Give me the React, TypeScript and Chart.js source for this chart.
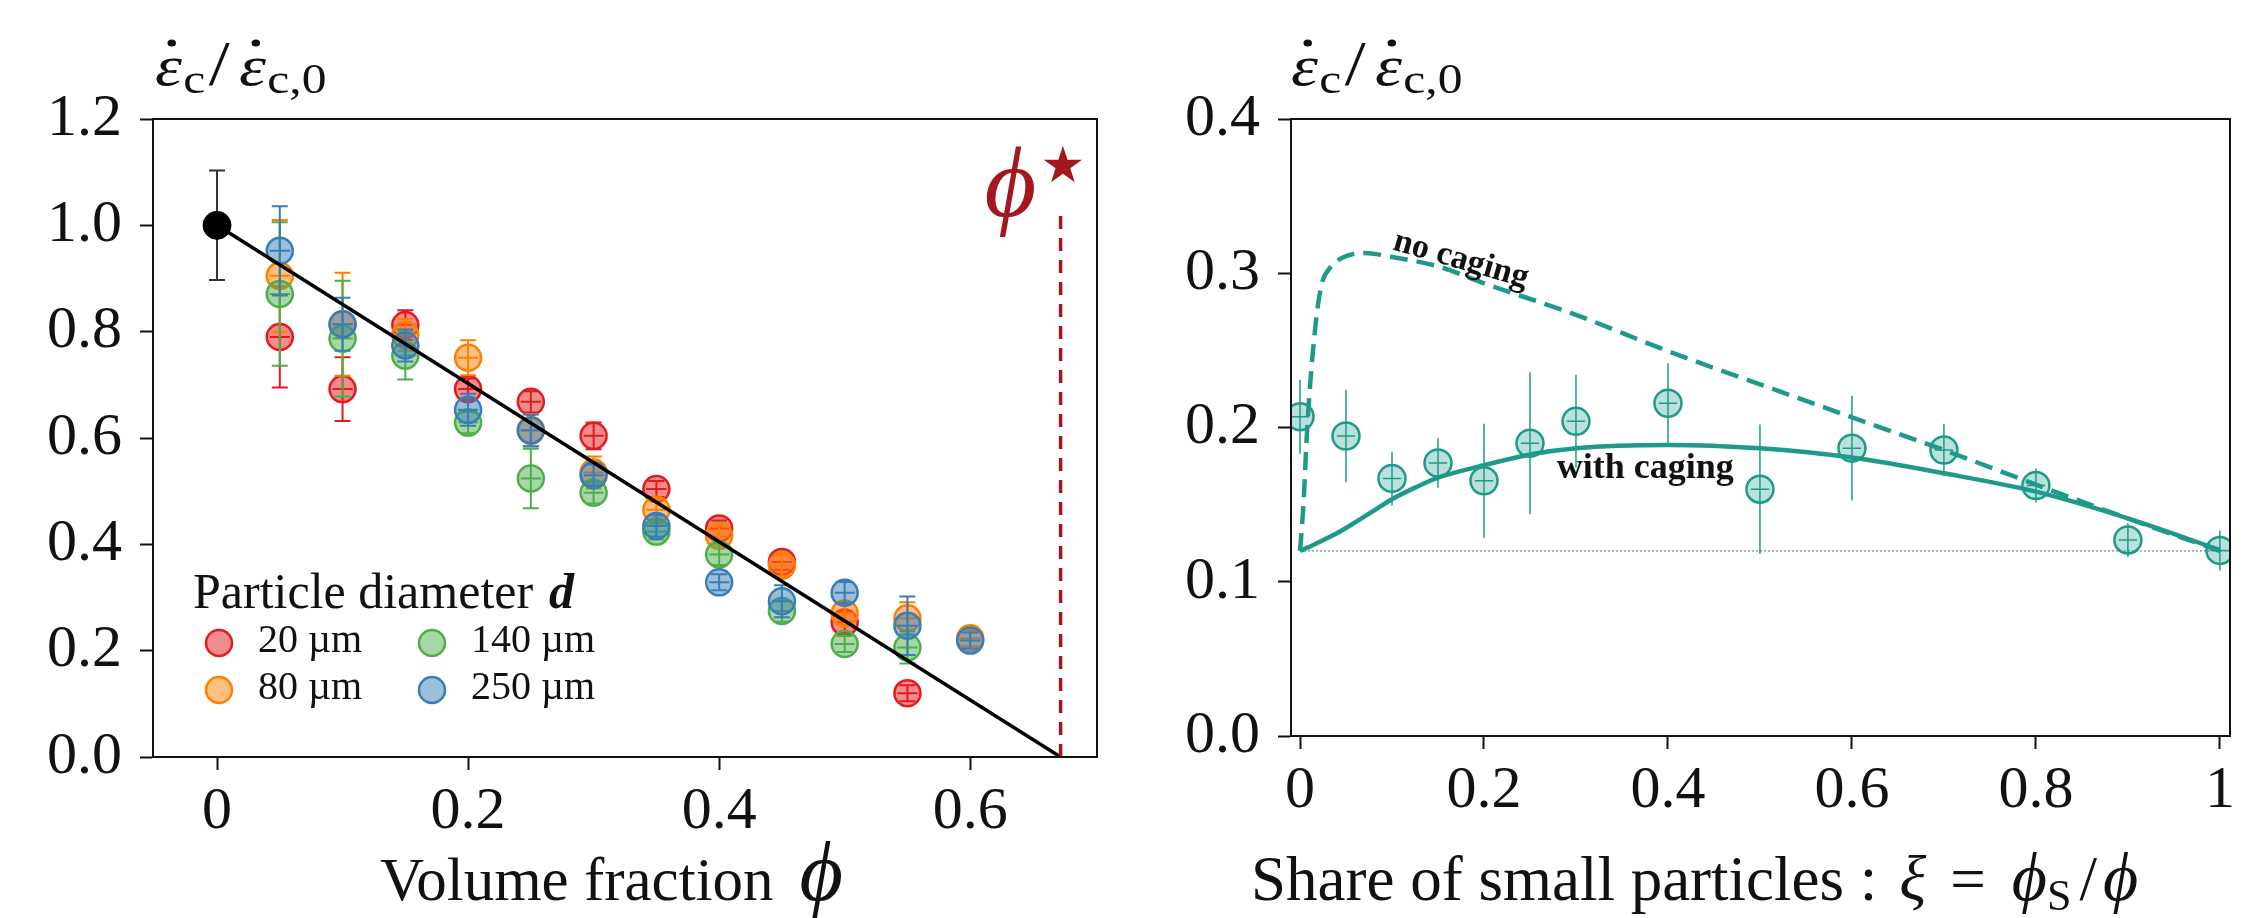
import React, { useEffect, useRef } from 'react';
import { Chart, registerables } from 'chart.js';

Chart.register(...registerables);

// ---------------- DATA (left panel) ----------------
const PHI = [0.05, 0.1, 0.15, 0.2, 0.25, 0.3, 0.35, 0.4, 0.45, 0.5, 0.55, 0.6];
const SERIES_LABELS = ['20 µm', '80 µm', '140 µm', '250 µm'];
const RED_RATE = [0.79, 0.692, 0.8125, 0.692, 0.668, 0.604, 0.504, 0.43, 0.367, 0.253, 0.12, null];
const RED_ERR = [0.095, 0.06, 0.028, 0.02, 0.02, 0.025, 0.015, 0.015, 0.015, 0.02, 0.015, null];
const ORANGE_RATE = [0.905, 0.814, 0.794, 0.751, 0.615, 0.535, 0.465, 0.416, 0.36, 0.27, 0.261, 0.2233];
const ORANGE_ERR = [0.105, 0.097, 0.03, 0.033, 0.03, 0.03, 0.02, 0.02, 0.02, 0.02, 0.03, 0.015];
const GREEN_RATE = [0.871, 0.787, 0.755, 0.629, 0.524, 0.497, 0.424, 0.381, 0.2746, 0.2125, 0.206, null];
const GREEN_ERR = [0.135, 0.109, 0.045, 0.02, 0.056, 0.02, 0.015, 0.02, 0.02, 0.015, 0.03, null];
const BLUE_RATE = [0.952, 0.814, 0.774, 0.653, 0.614, 0.53, 0.4345, 0.3285, 0.293, 0.309, 0.247, 0.219];
const BLUE_ERR = [0.084, 0.05, 0.03, 0.03, 0.03, 0.02, 0.02, 0.015, 0.03, 0.02, 0.055, 0.015];
const REF_PHI = [0];
const REF_RATE = [1.0];
const REF_ERR = [0.103];
const PHI_XERR = 0.008;
const PHI_STAR = 0.672;
const PHI_STAR_TOP = 1.02;
const FIT_X = [0, PHI_STAR];
const FIT_Y = [1, 0];
const X_TICKS_LEFT = [0, 0.2, 0.4, 0.6];
const X_LABELS_LEFT = ['0', '0.2', '0.4', '0.6'];
const Y_TICKS_LEFT = [0, 0.2, 0.4, 0.6, 0.8, 1.0, 1.2];
const Y_LABELS_LEFT = ['0.0', '0.2', '0.4', '0.6', '0.8', '1.0', '1.2'];

// ---------------- DATA (right panel) ----------------
const XI = [0, 0.05, 0.1, 0.15, 0.2, 0.25, 0.3, 0.4, 0.5, 0.6, 0.7, 0.8, 0.9, 1.0];
const RATE = [0.207, 0.1945, 0.167, 0.177, 0.1655, 0.1898, 0.204, 0.2157, 0.16, 0.1866, 0.1854, 0.1624, 0.1271, 0.1203];
const RATE_ERR = [0.024, 0.03, 0.0175, 0.016, 0.037, 0.046, 0.03, 0.026, 0.042, 0.034, 0.017, 0.011, 0.011, 0.013];
const XI_XERR = 0.01;
const NO_CAGING_X = [0, 0.002, 0.004, 0.0075, 0.0125, 0.019, 0.024, 0.032, 0.046, 0.07, 0.1, 0.15, 0.2, 0.3, 0.4, 0.5, 0.6, 0.7, 0.8, 0.9, 1.0];
const NO_CAGING_Y = [0.12, 0.135, 0.153, 0.196, 0.239, 0.277, 0.294, 0.303, 0.31, 0.3132, 0.3105, 0.3045, 0.2935, 0.273, 0.2495, 0.228, 0.2066, 0.1854, 0.163, 0.141, 0.12];
const WITH_CAGING_X = [0, 0.02, 0.04, 0.06, 0.08, 0.1, 0.125, 0.15, 0.2, 0.25, 0.3, 0.4, 0.5, 0.6, 0.7, 0.8, 0.9, 1.0];
const WITH_CAGING_Y = [0.12, 0.1255, 0.1314, 0.1385, 0.146, 0.1535, 0.161, 0.1675, 0.1755, 0.1825, 0.1866, 0.1887, 0.1865, 0.1805, 0.1703, 0.1584, 0.1411, 0.1206];
const BASELINE = 0.12;
const X_TICKS_RIGHT = [0, 0.2, 0.4, 0.6, 0.8, 1];
const X_LABELS_RIGHT = ['0', '0.2', '0.4', '0.6', '0.8', '1'];
const Y_TICKS_RIGHT = [0, 0.1, 0.2, 0.3, 0.4];
const Y_LABELS_RIGHT = ['0.0', '0.1', '0.2', '0.3', '0.4'];

// ---------------- STYLE ----------------
const SERIF = "'Liberation Serif', 'DejaVu Serif', serif";
const INK = '#111111';
const SERIES_COLORS = ['#e41a1c', '#ff7f00', '#4daf4a', '#377eb8'];
const SERIES_FILLS = ['rgba(228,26,28,0.5)', 'rgba(255,127,0,0.5)', 'rgba(77,175,74,0.5)', 'rgba(55,126,184,0.5)'];
const TEAL = '#1f9a8a';
const TEAL_FILL = 'rgba(31,154,138,0.3)';
const DARK_RED = '#a3181f';
const W = 1127;
const H = 918;
const TICK_FONT = { family: SERIF, size: 60 };

type Run = { t: string; f: string; dx?: number; dy?: number; dot?: boolean };

function drawRuns(ctx: any, x: number, y: number, runs: Run[], color: string, align: 'left' | 'center', sx = 1) {
  ctx.save();
  ctx.fillStyle = color;
  ctx.textBaseline = 'alphabetic';
  ctx.textAlign = 'left';
  let total = 0;
  const widths: number[] = [];
  runs.forEach((r) => {
    ctx.font = r.f;
    const w = ctx.measureText(r.t).width;
    widths.push(w);
    total += (r.dx || 0) + w;
  });
  ctx.translate(align === 'center' ? x - (total * sx) / 2 : x, y);
  ctx.scale(sx, 1);
  let cx = 0;
  runs.forEach((r, i) => {
    cx += r.dx || 0;
    ctx.font = r.f;
    ctx.fillText(r.t, cx, r.dy || 0);
    if (r.dot) {
      ctx.beginPath();
      ctx.arc(cx + widths[i] * 0.62, -42, 3.6, 0, Math.PI * 2);
      ctx.fill();
    }
    cx += widths[i];
  });
  ctx.restore();
}

function rateTitleRuns(): Run[] {
  return [
    { t: 'ε', f: `italic 58px ${SERIF}`, dot: true },
    { t: 'c', f: `42px ${SERIF}`, dy: 8, dx: 1 },
    { t: '/', f: `64px ${SERIF}`, dx: 3 },
    { t: 'ε', f: `italic 58px ${SERIF}`, dx: 8, dot: true },
    { t: 'c,0', f: `42px ${SERIF}`, dy: 8, dx: 1 },
  ];
}

const errorBarsPlugin = {
  id: 'errorBars',
  beforeDatasetDraw(chart: any, args: any) {
    const ds = chart.data.datasets[args.index];
    if (!ds.withErrors) return;
    const ctx = chart.ctx;
    const xs = chart.scales.x;
    const ys = chart.scales.y;
    ctx.save();
    ctx.strokeStyle = ds.errColor;
    ctx.lineWidth = ds.errWidth;
    ds.data.forEach((p: any) => {
      if (p.e == null) return;
      const px = xs.getPixelForValue(p.x);
      const py = ys.getPixelForValue(p.y);
      const t = ys.getPixelForValue(p.y + p.e);
      const b = ys.getPixelForValue(p.y - p.e);
      ctx.beginPath();
      ctx.moveTo(px, t);
      ctx.lineTo(px, b);
      if (ds.capHalf) {
        ctx.moveTo(px - ds.capHalf, t);
        ctx.lineTo(px + ds.capHalf, t);
        ctx.moveTo(px - ds.capHalf, b);
        ctx.lineTo(px + ds.capHalf, b);
      }
      if (ds.xErr) {
        ctx.moveTo(xs.getPixelForValue(p.x - ds.xErr), py);
        ctx.lineTo(xs.getPixelForValue(p.x + ds.xErr), py);
      }
      ctx.stroke();
    });
    ctx.restore();
  },
};

function spines(chart: any) {
  const { ctx, chartArea: a } = chart;
  ctx.save();
  ctx.strokeStyle = INK;
  ctx.lineWidth = 2;
  ctx.strokeRect(a.left, a.top, a.right - a.left, a.bottom - a.top);
  ctx.restore();
}

const leftDeco = {
  id: 'leftDeco',
  afterDatasetsDraw(chart: any) {
    const { ctx, chartArea: a } = chart;
    const xs = chart.scales.x;
    const ys = chart.scales.y;
    // phi* dashed line
    const px = xs.getPixelForValue(PHI_STAR);
    ctx.save();
    ctx.strokeStyle = DARK_RED;
    ctx.lineWidth = 3.5;
    ctx.setLineDash([13, 9]);
    ctx.beginPath();
    ctx.moveTo(px, ys.getPixelForValue(0));
    ctx.lineTo(px, ys.getPixelForValue(PHI_STAR_TOP));
    ctx.stroke();
    ctx.restore();
    drawRuns(ctx, px - 76, 216, [{ t: 'ϕ', f: `italic 100px ${SERIF}` }], DARK_RED, 'left');
    ctx.save();
    ctx.fillStyle = DARK_RED;
    ctx.font = "50px 'DejaVu Sans'";
    ctx.textAlign = 'left';
    ctx.fillText('★', px - 20, 182);
    ctx.restore();

    spines(chart);

    // legend
    const lx = a.left + 40;
    const ly = a.bottom - 149;
    drawRuns(ctx, lx, ly, [
      { t: 'Particle diameter', f: `50px ${SERIF}` },
      { t: 'd', f: `bold italic 50px ${SERIF}`, dx: 16 },
    ], INK, 'left');
    const cols = [a.left + 66, a.left + 279];
    const rows = [a.bottom - 114, a.bottom - 67];
    [0, 1, 2, 3].forEach((k) => {
      const cx = cols[Math.floor(k / 2)];
      const cy = rows[k % 2];
      ctx.save();
      ctx.beginPath();
      ctx.arc(cx, cy, 13, 0, Math.PI * 2);
      ctx.fillStyle = SERIES_FILLS[k];
      ctx.fill();
      ctx.lineWidth = 2.5;
      ctx.strokeStyle = SERIES_COLORS[k];
      ctx.stroke();
      ctx.restore();
      drawRuns(ctx, cx + 39, cy + 9, [{ t: SERIES_LABELS[k], f: `40px ${SERIF}` }], INK, 'left');
    });

    // axis titles
    drawRuns(ctx, a.left + 2, a.top - 34, rateTitleRuns(), INK, 'left', 1.18);
    drawRuns(ctx, a.left + 227, 900, [
      { t: 'Volume fraction', f: `61px ${SERIF}` },
      { t: 'ϕ', f: `italic 84px ${SERIF}`, dx: 26 },
    ], INK, 'left');
  },
};

const rightDeco = {
  id: 'rightDeco',
  beforeDatasetsDraw(chart: any) {
    const { ctx, chartArea: a } = chart;
    const ys = chart.scales.y;
    const xs = chart.scales.x;
    const y = ys.getPixelForValue(BASELINE);
    ctx.save();
    ctx.strokeStyle = '#666';
    ctx.lineWidth = 1;
    ctx.setLineDash([2, 2]);
    ctx.beginPath();
    ctx.moveTo(xs.getPixelForValue(0), y);
    ctx.lineTo(a.right, y);
    ctx.stroke();
    ctx.restore();
  },
  afterDatasetsDraw(chart: any) {
    const { ctx, chartArea: a } = chart;
    const xs = chart.scales.x;
    const ys = chart.scales.y;
    spines(chart);
    // curve labels
    ctx.save();
    ctx.translate(xs.getPixelForValue(0.175), ys.getPixelForValue(0.3086));
    ctx.rotate((16 * Math.PI) / 180);
    ctx.font = `bold 34px ${SERIF}`;
    ctx.fillStyle = INK;
    ctx.textAlign = 'center';
    ctx.textBaseline = 'middle';
    ctx.fillText('no caging', 0, 0);
    ctx.restore();
    drawRuns(ctx, xs.getPixelForValue(0.279), ys.getPixelForValue(0.167), [{ t: 'with caging', f: `bold 36px ${SERIF}` }], INK, 'left');

    drawRuns(ctx, a.left, a.top - 34, rateTitleRuns(), INK, 'left', 1.18);
    drawRuns(ctx, a.left - 40, 900, [
      { t: 'Share of small particles :', f: `63px ${SERIF}` },
      { t: 'ξ', f: `italic 63px ${SERIF}`, dx: 22 },
      { t: '=', f: `63px ${SERIF}`, dx: 24 },
      { t: 'ϕ', f: `italic 68px ${SERIF}`, dx: 26 },
      { t: 'S', f: `44px ${SERIF}`, dy: 10 },
      { t: '/', f: `63px ${SERIF}`, dx: 8 },
      { t: 'ϕ', f: `italic 68px ${SERIF}`, dx: 6 },
    ], INK, 'left');
  },
};

function xScale(min: number, max: number, ticks: number[], labels: string[], height: number) {
  return {
    type: 'linear',
    min,
    max,
    afterBuildTicks: (s: any) => {
      s.ticks = ticks.map((v) => ({ value: v }));
    },
    afterFit: (s: any) => {
      s.height = height;
    },
    grid: { display: true, drawOnChartArea: false, drawTicks: true, tickLength: 13, tickWidth: 2, tickColor: INK },
    border: { display: true, color: INK, width: 2 },
    ticks: {
      callback: (_v: any, i: number) => labels[i],
      font: TICK_FONT,
      color: INK,
      padding: 6,
      maxRotation: 0,
      autoSkip: false,
    },
  };
}

function yScale(min: number, max: number, ticks: number[], labels: string[], width: number) {
  return {
    type: 'linear',
    min,
    max,
    afterBuildTicks: (s: any) => {
      s.ticks = ticks.map((v) => ({ value: v }));
    },
    afterFit: (s: any) => {
      s.width = width;
    },
    grid: { display: true, drawOnChartArea: false, drawTicks: true, tickLength: 13, tickWidth: 2, tickColor: INK },
    border: { display: true, color: INK, width: 2 },
    ticks: {
      callback: (_v: any, i: number) => labels[i],
      font: TICK_FONT,
      color: INK,
      padding: 18,
      autoSkip: false,
    },
  };
}

function series(rates: (number | null)[], errs: (number | null)[]) {
  return PHI.map((x, i) => ({ x, y: rates[i], e: errs[i] })).filter((p) => p.y != null);
}

function leftConfig(): any {
  const rates = [RED_RATE, ORANGE_RATE, GREEN_RATE, BLUE_RATE];
  const errs = [RED_ERR, ORANGE_ERR, GREEN_ERR, BLUE_ERR];
  const pointSets = rates.map((r, k) => ({
    label: SERIES_LABELS[k],
    data: series(r, errs[k]),
    pointRadius: 13,
    pointHoverRadius: 13,
    pointBorderWidth: 2.5,
    backgroundColor: SERIES_FILLS[k],
    borderColor: SERIES_COLORS[k],
    withErrors: true,
    errColor: SERIES_COLORS[k],
    errWidth: 2,
    capHalf: 8,
    xErr: PHI_XERR,
    order: 5 - k,
  }));
  return {
    type: 'scatter',
    data: {
      datasets: [
        {
          label: 'fit',
          data: FIT_X.map((x, i) => ({ x, y: FIT_Y[i] })),
          showLine: true,
          borderColor: '#000',
          borderWidth: 3.5,
          pointRadius: 0,
          order: 0,
        },
        {
          label: 'reference',
          data: REF_PHI.map((x, i) => ({ x, y: REF_RATE[i], e: REF_ERR[i] })),
          pointRadius: 14,
          pointBorderWidth: 1,
          backgroundColor: '#000',
          borderColor: '#000',
          withErrors: true,
          errColor: '#333',
          errWidth: 2,
          capHalf: 8,
          order: 1,
        },
        ...pointSets,
      ],
    },
    options: {
      responsive: false,
      animation: false,
      devicePixelRatio: 1,
      layout: { padding: { top: 119, right: 30, bottom: 0, left: 0 } },
      plugins: { legend: { display: false }, tooltip: { enabled: false } },
      events: [],
      scales: {
        x: xScale(-0.051, 0.701, X_TICKS_LEFT, X_LABELS_LEFT, 161),
        y: yScale(0, 1.2, Y_TICKS_LEFT, Y_LABELS_LEFT, 153),
      },
    },
    plugins: [errorBarsPlugin, leftDeco],
  };
}

function rightConfig(): any {
  return {
    type: 'scatter',
    data: {
      datasets: [
        {
          label: 'with caging',
          data: WITH_CAGING_X.map((x, i) => ({ x, y: WITH_CAGING_Y[i] })),
          showLine: true,
          borderColor: TEAL,
          borderWidth: 4.5,
          pointRadius: 0,
          cubicInterpolationMode: 'monotone',
          order: 0,
        },
        {
          label: 'no caging',
          data: NO_CAGING_X.map((x, i) => ({ x, y: NO_CAGING_Y[i] })),
          showLine: true,
          borderColor: TEAL,
          borderWidth: 4.5,
          borderDash: [18, 9],
          pointRadius: 0,
          cubicInterpolationMode: 'monotone',
          order: 1,
        },
        {
          label: 'measurements',
          data: XI.map((x, i) => ({ x, y: RATE[i], e: RATE_ERR[i] })),
          pointRadius: 13.5,
          pointBorderWidth: 2.5,
          backgroundColor: TEAL_FILL,
          borderColor: TEAL,
          withErrors: true,
          errColor: TEAL,
          errWidth: 1.5,
          capHalf: 0,
          xErr: XI_XERR,
          clip: 0,
          order: 2,
        },
      ],
    },
    options: {
      responsive: false,
      animation: false,
      devicePixelRatio: 1,
      layout: { padding: { top: 119, right: 24, bottom: 0, left: 0 } },
      plugins: { legend: { display: false }, tooltip: { enabled: false } },
      events: [],
      scales: {
        x: xScale(-0.0098, 1.011, X_TICKS_RIGHT, X_LABELS_RIGHT, 182),
        y: yScale(0, 0.4, Y_TICKS_RIGHT, Y_LABELS_RIGHT, 164),
      },
    },
    plugins: [errorBarsPlugin, rightDeco],
  };
}

export default function App() {
  const leftRef = useRef<HTMLCanvasElement>(null);
  const rightRef = useRef<HTMLCanvasElement>(null);
  useEffect(() => {
    const c1 = new Chart(leftRef.current as HTMLCanvasElement, leftConfig());
    const c2 = new Chart(rightRef.current as HTMLCanvasElement, rightConfig());
    return () => {
      c1.destroy();
      c2.destroy();
    };
  }, []);
  return (
    <div style={{ position: 'absolute', left: 0, top: 0, width: 2254, height: 918, background: '#fff', overflow: 'hidden' }}>
      <canvas ref={leftRef} width={W} height={H} style={{ position: 'absolute', left: 0, top: 0, width: W, height: H }} />
      <canvas ref={rightRef} width={W} height={H} style={{ position: 'absolute', left: W, top: 0, width: W, height: H }} />
    </div>
  );
}
